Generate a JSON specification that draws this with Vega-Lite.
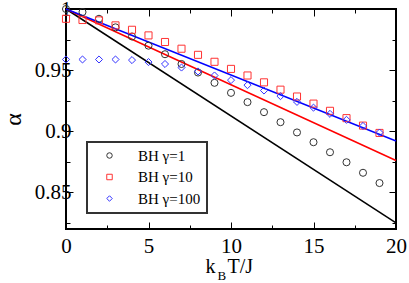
{
  "$schema": "https://vega.github.io/schema/vega-lite/v6.json",
  "width": 330,
  "height": 220,
  "autosize": {"type": "none"},
  "padding": {"left": 66, "top": 9, "right": 13, "bottom": 54},
  "config": {
    "view": {"stroke": "#000", "strokeWidth": 2},
    "font": "Liberation Serif",
    "style": {
      "guide-label": {"font": "Liberation Serif"},
      "guide-title": {"font": "Liberation Serif"}
    },
    "axis": {
      "labelFont": "Liberation Serif",
      "labelFontSize": 21,
      "labelColor": "#000",
      "labelFlush": false,
      "titleFont": "Liberation Serif",
      "titleColor": "#000",
      "titleFontWeight": "normal",
      "tickColor": "#000",
      "tickWidth": 1,
      "domain": false,
      "grid": false
    },
    "legend": {
      "labelFont": "Liberation Serif",
      "labelFontSize": 15,
      "labelColor": "#000",
      "strokeColor": "#333",
      "strokeWidth": 2,
      "fillColor": "#fff",
      "padding": 6,
      "symbolOffset": 9,
      "labelOffset": 21,
      "rowPadding": 5.5,
      "symbolSize": 30,
      "symbolStrokeWidth": 1
    }
  },
  "datasets": {
    "lines": [
      {"x": 0, "alpha": 1.0, "curve": "g1"},
      {"x": 20, "alpha": 0.825, "curve": "g1"},
      {"x": 0, "alpha": 1.0, "curve": "g10"},
      {"x": 20, "alpha": 0.876, "curve": "g10"},
      {"x": 0, "alpha": 1.0, "curve": "g100"},
      {"x": 20, "alpha": 0.892, "curve": "g100"}
    ],
    "pts": [
      {"x": 0, "alpha": 1.0, "series": "BH γ=1"},
      {"x": 1, "alpha": 0.9975, "series": "BH γ=1"},
      {"x": 2, "alpha": 0.992, "series": "BH γ=1"},
      {"x": 3, "alpha": 0.985, "series": "BH γ=1"},
      {"x": 4, "alpha": 0.9775, "series": "BH γ=1"},
      {"x": 5, "alpha": 0.970, "series": "BH γ=1"},
      {"x": 6, "alpha": 0.963, "series": "BH γ=1"},
      {"x": 7, "alpha": 0.955, "series": "BH γ=1"},
      {"x": 8, "alpha": 0.948, "series": "BH γ=1"},
      {"x": 9, "alpha": 0.9396, "series": "BH γ=1"},
      {"x": 10, "alpha": 0.9314, "series": "BH γ=1"},
      {"x": 11, "alpha": 0.9238, "series": "BH γ=1"},
      {"x": 12, "alpha": 0.9156, "series": "BH γ=1"},
      {"x": 13, "alpha": 0.9074, "series": "BH γ=1"},
      {"x": 14, "alpha": 0.899, "series": "BH γ=1"},
      {"x": 15, "alpha": 0.891, "series": "BH γ=1"},
      {"x": 16, "alpha": 0.8828, "series": "BH γ=1"},
      {"x": 17, "alpha": 0.8746, "series": "BH γ=1"},
      {"x": 18, "alpha": 0.866, "series": "BH γ=1"},
      {"x": 19, "alpha": 0.8576, "series": "BH γ=1"},
      {"x": 0, "alpha": 0.992, "series": "BH γ=10"},
      {"x": 1, "alpha": 0.991, "series": "BH γ=10"},
      {"x": 2, "alpha": 0.9907, "series": "BH γ=10"},
      {"x": 3, "alpha": 0.9866, "series": "BH γ=10"},
      {"x": 4, "alpha": 0.983, "series": "BH γ=10"},
      {"x": 5, "alpha": 0.9784, "series": "BH γ=10"},
      {"x": 6, "alpha": 0.973, "series": "BH γ=10"},
      {"x": 7, "alpha": 0.9675, "series": "BH γ=10"},
      {"x": 8, "alpha": 0.9625, "series": "BH γ=10"},
      {"x": 9, "alpha": 0.9568, "series": "BH γ=10"},
      {"x": 10, "alpha": 0.951, "series": "BH γ=10"},
      {"x": 11, "alpha": 0.9456, "series": "BH γ=10"},
      {"x": 12, "alpha": 0.940, "series": "BH γ=10"},
      {"x": 13, "alpha": 0.934, "series": "BH γ=10"},
      {"x": 14, "alpha": 0.9284, "series": "BH γ=10"},
      {"x": 15, "alpha": 0.9226, "series": "BH γ=10"},
      {"x": 16, "alpha": 0.9167, "series": "BH γ=10"},
      {"x": 17, "alpha": 0.9107, "series": "BH γ=10"},
      {"x": 18, "alpha": 0.9046, "series": "BH γ=10"},
      {"x": 19, "alpha": 0.8986, "series": "BH γ=10"},
      {"x": 0, "alpha": 0.9587, "series": "BH γ=100"},
      {"x": 1, "alpha": 0.9587, "series": "BH γ=100"},
      {"x": 2, "alpha": 0.9587, "series": "BH γ=100"},
      {"x": 3, "alpha": 0.9587, "series": "BH γ=100"},
      {"x": 4, "alpha": 0.9582, "series": "BH γ=100"},
      {"x": 5, "alpha": 0.9566, "series": "BH γ=100"},
      {"x": 6, "alpha": 0.955, "series": "BH γ=100"},
      {"x": 7, "alpha": 0.9521, "series": "BH γ=100"},
      {"x": 8, "alpha": 0.9489, "series": "BH γ=100"},
      {"x": 9, "alpha": 0.9456, "series": "BH γ=100"},
      {"x": 10, "alpha": 0.9418, "series": "BH γ=100"},
      {"x": 11, "alpha": 0.9377, "series": "BH γ=100"},
      {"x": 12, "alpha": 0.9333, "series": "BH γ=100"},
      {"x": 13, "alpha": 0.9287, "series": "BH γ=100"},
      {"x": 14, "alpha": 0.924, "series": "BH γ=100"},
      {"x": 15, "alpha": 0.9193, "series": "BH γ=100"},
      {"x": 16, "alpha": 0.9142, "series": "BH γ=100"},
      {"x": 17, "alpha": 0.9093, "series": "BH γ=100"},
      {"x": 18, "alpha": 0.9043, "series": "BH γ=100"},
      {"x": 19, "alpha": 0.8989, "series": "BH γ=100"}
    ]
  },
  "layer": [
    {
      "data": {"name": "lines"},
      "transform": [{"filter": "datum.curve === 'g1'"}],
      "mark": {"type": "line", "strokeWidth": 1.5, "color": "#000000"},
      "encoding": {
        "x": {
          "field": "x", "type": "quantitative",
          "scale": {"domain": [0, 20], "nice": false},
          "axis": {
            "orient": "bottom",
            "values": [0, 2.5, 5, 7.5, 10, 12.5, 15, 17.5, 20],
            "labelExpr": "datum.value % 5 === 0 ? '' + datum.value : ''",
            "tickSize": {"condition": {"test": "datum.value % 5 === 0", "value": -7}, "value": -4},
            "labelFont": "Liberation Serif",
            "labelFontSize": 21,
            "labelFlush": false,
            "labelPadding": 13,
            "title": "k",
            "titleFont": "Liberation Serif",
            "titleFontSize": 20,
            "titleAlign": "left",
            "titleBaseline": "alphabetic",
            "titleX": 139,
            "titleY": 43
          }
        },
        "y": {
          "field": "alpha", "type": "quantitative",
          "scale": {"domain": [0.82, 1.0], "nice": false, "zero": false},
          "axis": {
            "orient": "left",
            "values": [0.825, 0.85, 0.875, 0.9, 0.925, 0.95, 0.975, 1.0],
            "labelExpr": "round(datum.value * 1000) % 50 === 0 ? '' + datum.value : ''",
            "tickSize": {"condition": {"test": "round(datum.value * 1000) % 50 === 0", "value": -7}, "value": -4},
            "labelFont": "Liberation Serif",
            "labelFontSize": 21,
            "labelFlush": false,
            "labelPadding": 2,
            "title": "α",
            "titleFont": "Liberation Serif",
            "titleFontSize": 24,
            "titlePadding": 9
          }
        }
      }
    },
    {
      "data": {"name": "lines"},
      "transform": [{"filter": "datum.curve === 'g10'"}],
      "mark": {"type": "line", "strokeWidth": 1.5, "color": "#ff0000"},
      "encoding": {
        "x": {"field": "x", "type": "quantitative", "axis": null},
        "y": {"field": "alpha", "type": "quantitative", "axis": null}
      }
    },
    {
      "data": {"name": "lines"},
      "transform": [{"filter": "datum.curve === 'g100'"}],
      "mark": {"type": "line", "strokeWidth": 1.5, "color": "#0000ff"},
      "encoding": {
        "x": {"field": "x", "type": "quantitative", "axis": null},
        "y": {"field": "alpha", "type": "quantitative", "axis": null}
      }
    },
    {
      "data": {"name": "pts"},
      "mark": {"type": "point", "filled": false, "size": 50, "strokeWidth": 1, "opacity": 1},
      "encoding": {
        "x": {
          "field": "x", "type": "quantitative",
          "axis": {
            "orient": "top",
            "values": [0, 2.5, 5, 7.5, 10, 12.5, 15, 17.5, 20],
            "labels": false,
            "tickSize": {"condition": {"test": "datum.value % 5 === 0", "value": -7}, "value": -4},
            "title": "B",
            "titleFont": "Liberation Serif",
            "titleFontSize": 13,
            "titleAlign": "left",
            "titleBaseline": "alphabetic",
            "titleX": 151,
            "titleY": 270
          }
        },
        "y": {
          "field": "alpha", "type": "quantitative",
          "axis": {
            "orient": "right",
            "values": [0.825, 0.85, 0.875, 0.9, 0.925, 0.95, 0.975, 1.0],
            "labels": false,
            "tickSize": {"condition": {"test": "round(datum.value * 1000) % 50 === 0", "value": -7}, "value": -4},
            "title": "T/J",
            "titleFont": "Liberation Serif",
            "titleFontSize": 20,
            "titleAngle": 0,
            "titleAlign": "left",
            "titleBaseline": "alphabetic",
            "titleX": -169,
            "titleY": 263
          }
        },
        "color": {
          "field": "series", "type": "nominal",
          "scale": {"domain": ["BH γ=1", "BH γ=10", "BH γ=100"], "range": ["#333333", "#ff3333", "#3333ff"]},
          "legend": {"title": null, "orient": "none", "legendX": 21, "legendY": 133}
        },
        "shape": {
          "field": "series", "type": "nominal",
          "scale": {"domain": ["BH γ=1", "BH γ=10", "BH γ=100"], "range": ["circle", "square", "diamond"]},
          "legend": {"title": null, "orient": "none", "legendX": 21, "legendY": 133}
        }
      }
    }
  ],
  "resolve": {
    "axis": {"x": "independent", "y": "independent"}
  }
}
